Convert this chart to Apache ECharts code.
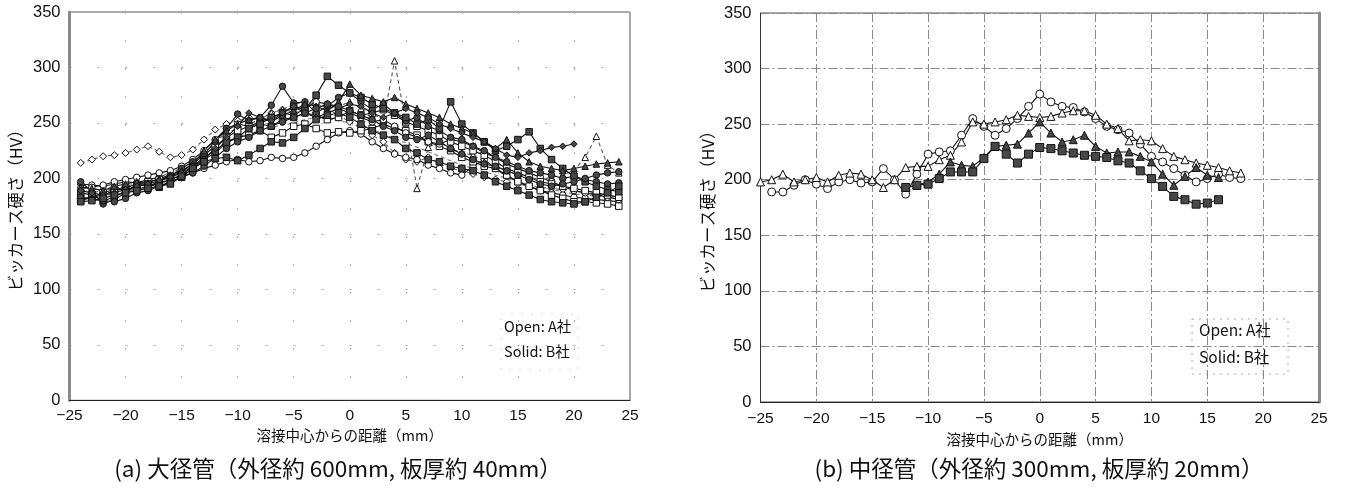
<!DOCTYPE html>
<html>
<head>
<meta charset="utf-8">
<script src="https://cdn.jsdelivr.net/npm/echarts@6/dist/echarts.min.js"></script>
<style>
html,body{margin:0;padding:0;background:#fff;}
#c{width:1346px;height:491px;}
</style>
</head>
<body>
<div id="c"></div>
<script>
// ---------- DATA ----------
const xTicks = [-25,-20,-15,-10,-5,0,5,10,15,20,25];
const yTicks = [0,50,100,150,200,250,300,350];

// Left chart (a): x positions (mm)
const xA = [-24,-23,-22,-21,-20,-19,-18,-17,-16,-15,-14,-13,-12,-11,-10,-9,-8,-7,-6,-5,-4,-3,-2,-1,0,1,2,3,4,5,6,7,8,9,10,11,12,13,14,15,16,17,18,19,20,21,22,23,24];
const xA20 = [-24,-23,-22,-21,-20,-19,-18,-17,-16,-15,-14,-13,-12,-11,-10,-9,-8,-7,-6,-5,-4,-3,-2,-1,0,1,2,3,4,5,6,7,8,9,10,11,12,13,14,15,16,17,18,19,20];

const aOpenDiamond = [214,217,220,221,223,226,229,224,219,221,226,235,244,249,252,255,253,259,262,260,265,267,263,257,251,245,239,233,223,217,215,219,213,209,207,204,201,199,197,195,193,192,191,190,189,187,186,185,183];
const aSolidCircle1 = [197,188,177,181,187,195,193,197,202,209,215,222,233,245,258,252,255,266,283,268,269,259,265,273,277,269,262,267,259,252,255,247,243,237,235,229,225,219,215,211,207,205,203,200,202,199,197,195,196];
const aSolidSquare1 = [187,185,180,183,189,193,195,192,197,201,209,217,223,232,237,245,249,255,259,265,262,275,292,284,277,273,267,263,259,255,249,253,245,269,249,241,233,225,229,235,242,227,217,209,202,197,193,190,188];
const aOpenCircle1 = [195,194,193,195,197,196,199,201,200,202,205,209,212,215,217,215,216,219,218,219,223,229,235,241,243,240,233,227,222,219,217,212,209,205,203,211,217,209,202,197,193,189,187,185,183,182,181,180,179];
const aOpenSquare1 = [182,183,185,189,191,190,193,196,199,203,211,219,225,233,237,239,243,237,241,247,249,245,241,242,241,243,245,249,245,243,239,233,229,225,219,215,211,209,203,197,193,189,185,182,179,179,178,177,175];
const aSolidTriangle = [192,191,189,193,195,197,196,200,203,207,213,225,235,243,249,253,255,251,257,261,267,265,261,269,285,275,272,269,273,267,263,259,255,249,245,241,233,227,235,223,215,211,209,207,209,211,213,214,215];
const aOpenTriangle = [185,187,189,191,193,195,197,201,205,209,215,222,233,241,245,249,253,259,262,267,269,267,263,265,269,263,259,252,306,250,191,228,233,227,223,221,215,211,207,203,201,199,201,203,207,219,238,212,205];
const aSolidDiamond = [189,187,185,187,190,193,195,198,201,205,211,217,227,237,247,259,255,252,259,265,259,255,259,263,267,265,259,255,259,263,259,255,249,245,241,237,233,227,221,219,223,225,228,229,231];
const aSolidCircle2 = [183,181,180,179,182,187,189,193,197,201,205,211,219,227,233,237,243,247,251,255,259,263,267,265,261,257,253,247,243,237,235,239,233,227,222,217,213,211,207,203,199,195,193,195,197,200,203,205,206];
const aSolidSquare2 = [179,180,182,185,187,189,191,193,195,202,209,215,218,219,216,221,227,233,232,237,245,253,257,259,255,249,243,239,235,227,223,217,215,211,209,207,203,197,193,189,185,181,179,178,177,179,183,187,193];
const aOpenCircle2 = [191,192,194,197,199,201,203,205,207,211,217,225,235,245,249,247,251,255,259,257,263,269,267,263,259,255,251,253,247,241,237,233,231,235,233,229,223,219,213,209,205,201,197,193,189,187,185,183,181];
const aOpenSquare2 = [180,183,187,190,192,194,197,199,202,206,213,221,229,237,243,247,249,247,253,255,259,257,253,255,261,257,259,262,257,251,247,243,239,233,229,225,221,215,209,205,201,197,195,193,191,189,187,185,183];
const aDashed = [183,182,184,186,188,190,192,195,198,203,210,218,226,233,238,240,243,246,248,250,253,255,254,252,250,247,244,240,236,232,228,224,220,216,212,209,206,203,200,197,194,192,190,188,186,185,184,183,182];

// Right chart (b)
const xBCircle = [-24,-23,-22,-21,-20,-19,-18,-17,-16,-15,-14,-13,-12,-11,-10,-9,-8,-7,-6,-5,-4,-3,-2,-1,0,1,2,3,4,5,6,7,8,9,10,11,12,13,14,15,16,17,18];
const bOpenCircle = [189,189,195,200,196,192,198,200,197,198,210,200,187,205,223,225,226,240,255,248,240,246,255,266,277,270,266,265,261,255,248,245,242,232,221,216,210,204,198,201,205,202,201];
const xBTriangle = [-25,-24,-23,-22,-21,-20,-19,-18,-17,-16,-15,-14,-13,-12,-11,-10,-9,-8,-7,-6,-5,-4,-3,-2,-1,0,1,2,3,4,5,6,7,8,9,10,11,12,13,14,15,16,17,18];
const bOpenTriangle = [198,200,205,198,200,202,198,204,206,205,200,193,200,211,212,212,218,222,234,252,250,252,254,258,257,256,257,260,262,262,258,250,246,235,236,235,228,221,218,215,213,211,208,206];
const xBSolid = [-12,-11,-10,-9,-8,-7,-6,-5,-4,-3,-2,-1,0,1,2,3,4,5,6,7,8,9,10,11,12,13,14,15,16];
const bSolidTriangle = [193,195,198,205,216,213,212,220,230,231,232,242,252,242,234,236,240,230,224,225,225,221,216,205,195,203,211,204,202];
const bSolidSquare = [193,195,196,201,207,207,207,219,230,223,215,223,229,228,226,224,222,221,220,217,215,208,201,194,185,182,178,179,182];

const yName = 'ビッカース硬さ（HV）';
const xName = '溶接中心からの距離（mm）';
const captionA = '(a) 大径管（外径約 600mm, 板厚約 40mm）';
const captionB = '(b) 中径管（外径約 300mm, 板厚約 20mm）';
const legendLines = ['Open: A社', 'Solid: B社'];

// ---------- BUILD ----------
const pair = (xs, ys) => ys.map((v, i) => [xs[i], v]);
const FONT = '"Liberation Sans", Arial, sans-serif';
const JFONT = '"Noto Sans CJK JP", "Liberation Sans", sans-serif';
const minus = v => String(v).replace('-', '\u2212');

function mk(name, xs, ys, idx, symbol, filled, opts) {
  opts = opts || {};
  return {
    type: 'line', name: name, xAxisIndex: idx, yAxisIndex: idx,
    data: pair(xs, ys), symbol: symbol, symbolSize: opts.size || 6.5,
    showSymbol: true, silent: true,
    lineStyle: { color: opts.lineColor || '#111', width: opts.width || 1.1, type: opts.dash ? [4, 3] : 'solid' },
    itemStyle: { color: filled ? '#484848' : '#ffffff', borderColor: '#111', borderWidth: 1 },
    z: opts.z || 3
  };
}

function xAxisCfg(idx, gap, margin, split) {
  return {
    type: 'value', gridIndex: idx, min: -25, max: 25, interval: 5,
    name: xName, nameLocation: 'middle', nameGap: gap,
    nameTextStyle: { fontFamily: JFONT, fontSize: 14.5, color: '#111' },
    axisLine: { show: true, onZero: false, lineStyle: { color: '#222', width: 1 } },
    axisTick: { show: false },
    axisLabel: { fontFamily: FONT, fontSize: 15.5, color: '#111', margin: margin, formatter: minus },
    splitLine: split
  };
}
function yAxisCfg(idx, gap, lineStyle, split) {
  return {
    type: 'value', gridIndex: idx, min: 0, max: 350, interval: 50,
    name: yName, nameLocation: 'middle', nameGap: gap,
    nameTextStyle: { fontFamily: JFONT, fontSize: 16.5, color: '#111' },
    axisLine: { show: true, onZero: false, lineStyle: lineStyle },
    axisTick: { show: false },
    axisLabel: { fontFamily: FONT, fontSize: 16.5, color: '#111', margin: 9 },
    splitLine: split
  };
}

const splitA = { show: true, lineStyle: { color: '#aaa', width: 1, type: [2, 26] } };
const splitB = { show: true, lineStyle: { color: '#888', width: 1, type: [9, 3, 2, 3] } };

const series = [
  mk('A-od', xA, aOpenDiamond, 0, 'diamond', false, { dash: true, lineColor: '#666', size: 7 }),
  mk('A-dash', xA, aDashed, 0, 'none', false, { dash: true, lineColor: '#777' }),
  mk('A-oc1', xA, aOpenCircle1, 0, 'circle', false),
  mk('A-os1', xA, aOpenSquare1, 0, 'rect', false),
  mk('A-ot', xA, aOpenTriangle, 0, 'triangle', false, { dash: true, lineColor: '#555' }),
  mk('A-oc2', xA, aOpenCircle2, 0, 'circle', false),
  mk('A-os2', xA, aOpenSquare2, 0, 'rect', false),
  mk('A-sc1', xA, aSolidCircle1, 0, 'circle', true),
  mk('A-ss1', xA, aSolidSquare1, 0, 'rect', true),
  mk('A-st', xA, aSolidTriangle, 0, 'triangle', true),
  mk('A-sd', xA20, aSolidDiamond, 0, 'diamond', true),
  mk('A-sc2', xA, aSolidCircle2, 0, 'circle', true),
  mk('A-ss2', xA, aSolidSquare2, 0, 'rect', true),
  mk('B-oc', xBCircle, bOpenCircle, 1, 'circle', false, { size: 8 }),
  mk('B-ot', xBTriangle, bOpenTriangle, 1, 'triangle', false, { size: 8 }),
  mk('B-st', xBSolid, bSolidTriangle, 1, 'triangle', true, { size: 8 }),
  mk('B-ss', xBSolid, bSolidSquare, 1, 'rect', true, { size: 8 })
];

const option = {
  animation: false,
  backgroundColor: '#ffffff',
  grid: [
    { left: 69.5, top: 12, width: 560.5, height: 388.3, show: true, borderColor: '#555', borderWidth: 1, backgroundColor: 'transparent' },
    { left: 760.5, top: 13, width: 558.5, height: 389, show: true, borderColor: '#555', borderWidth: 1, backgroundColor: 'transparent' }
  ],
  xAxis: [
    xAxisCfg(0, 28, 7, splitA),
    xAxisCfg(1, 28, 9, splitB),
    { type: 'value', gridIndex: 1, min: -25, max: 25, position: 'top', axisLine: { show: false }, axisTick: { show: false }, axisLabel: { show: false }, splitLine: { show: false } }
  ],
  yAxis: [
    yAxisCfg(0, 46, { color: '#8a8a8a', width: 3 }, splitA),
    yAxisCfg(1, 45, { color: '#333', width: 1 }, splitB),
    { type: 'value', gridIndex: 1, min: 0, max: 350, position: 'right', axisLine: { show: true, onZero: false, lineStyle: { color: '#8a8a8a', width: 3 } }, axisTick: { show: false }, axisLabel: { show: false }, splitLine: { show: false } }
  ],
  series: series,
  graphic: [
    { type: 'text', x: 338, y: 468, style: { text: captionA, fontFamily: JFONT, fontSize: 22.5, fill: '#111', align: 'center', verticalAlign: 'middle' } },
    { type: 'text', x: 1039, y: 468, style: { text: captionB, fontFamily: JFONT, fontSize: 22.5, fill: '#111', align: 'center', verticalAlign: 'middle' } },
    { type: 'rect', shape: { x: 501, y: 314, width: 77, height: 56 }, style: { fill: 'transparent', stroke: '#ddd', lineWidth: 1, lineDash: [2, 8] } },
    { type: 'text', x: 504, y: 319, style: { text: legendLines[0], fontFamily: JFONT, fontSize: 14.5, fill: '#111' } },
    { type: 'text', x: 504, y: 344, style: { text: legendLines[1], fontFamily: JFONT, fontSize: 14.5, fill: '#111' } },
    { type: 'rect', shape: { x: 1192, y: 319, width: 96, height: 55 }, style: { fill: '#fff', stroke: '#aaa', lineWidth: 1, lineDash: [2, 5] } },
    { type: 'text', x: 1199, y: 322, style: { text: legendLines[0], fontFamily: JFONT, fontSize: 15.5, fill: '#111' } },
    { type: 'text', x: 1199, y: 349, style: { text: legendLines[1], fontFamily: JFONT, fontSize: 15.5, fill: '#111' } }
  ]
};

const chart = echarts.init(document.getElementById('c'), null, { renderer: 'canvas' });
chart.setOption(option);
</script>
</body>
</html>
